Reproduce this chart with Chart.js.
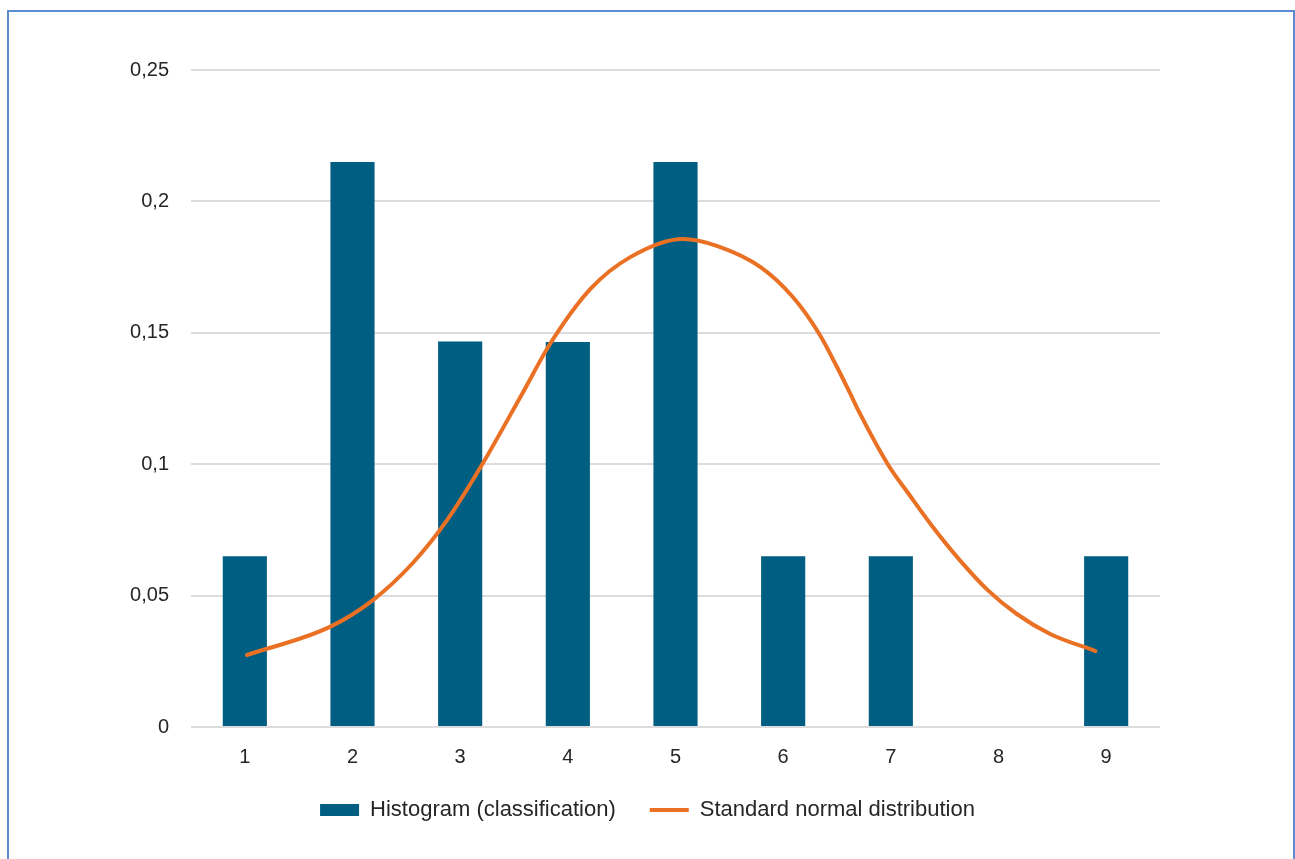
<!DOCTYPE html>
<html>
<head>
<meta charset="utf-8">
<title>Histogram vs normal distribution</title>
<script src="https://cdn.jsdelivr.net/npm/chart.js@4/dist/chart.umd.min.js"></script>
<style>
  html, body { margin: 0; padding: 0; background: #fff; }
  body { width: 1295px; height: 859px; position: relative; overflow: hidden; }
  #frame {
    position: absolute; left: 7px; top: 10px;
    width: 1284px; height: 900px;
    border: 2px solid #5b8bd0;
  }
  #wrap { position: absolute; left: 0; top: 0; width: 1295px; height: 859px; }
</style>
</head>
<body>
<div id="frame"></div>
<div id="wrap"><canvas id="chart"></canvas></div>
<script>
// histogram bins (x) and relative frequencies
const bins = [1, 2, 3, 4, 5, 6, 7, 8, 9];
const histValues = [0.065, 0.215, 0.1467, 0.1465, 0.215, 0.065, 0.065, 0, 0.065];

// normal curve
const curveX = [1.02, 1.79, 2.19, 2.56, 2.88, 3.19, 3.58, 3.84, 4.21, 4.58, 5.07, 5.39, 5.79,
  6.09, 6.33, 6.50, 6.62, 6.71, 6.97, 7.18, 7.39, 7.64, 7.90, 8.17, 8.48, 8.90];
const curveY = [0.0274, 0.0381, 0.0483, 0.0624, 0.0788, 0.0989, 0.1271, 0.1461, 0.1667, 0.1788, 0.1857, 0.1830, 0.1750,
  0.1636, 0.1499, 0.1370, 0.1271, 0.1195, 0.1001, 0.0879, 0.0761, 0.0635, 0.0521, 0.0430, 0.0354, 0.0289];

// y axis ticks
const yTickValues = [0, 0.05, 0.1, 0.15, 0.2, 0.25];
const yTickLabels = ['0', '0,05', '0,1', '0,15', '0,2', '0,25'];

const seriesNames = ['Histogram (classification)', 'Standard normal distribution'];

const barColor = '#005e82';
const lineColor = '#ea7024';
const FONT = '"Liberation Sans", Arial, Helvetica, sans-serif';

const ctx = document.getElementById('chart').getContext('2d');

new Chart(ctx, {
  type: 'bar',
  data: {
    datasets: [
      {
        type: 'bar',
        label: seriesNames[0],
        data: bins.map((b, i) => ({ x: b, y: histValues[i] })),
        backgroundColor: barColor,
        borderWidth: 0,
        barPercentage: 0.41,
        categoryPercentage: 1,
        order: 1
      },
      {
        type: 'line',
        label: seriesNames[1],
        data: curveX.map((x, i) => ({ x: x, y: curveY[i] })),
        borderColor: lineColor,
        backgroundColor: lineColor,
        borderWidth: 4,
        pointRadius: 0,
        cubicInterpolationMode: 'monotone',
        borderCapStyle: 'round',
        fill: false,
        order: 0
      }
    ]
  },
  options: {
    responsive: true,
    maintainAspectRatio: false,
    animation: false,
    layout: {
      padding: { top: 70, left: 0, right: 0, bottom: 28 }
    },
    plugins: {
      tooltip: { enabled: false },
      legend: {
        position: 'bottom',
        labels: {
          font: { family: FONT, size: 22 },
          color: '#262626',
          padding: 34,
          usePointStyle: true,
          pointStyleWidth: 39,
          boxHeight: 12,
          sort: (a, b) => a.datasetIndex - b.datasetIndex,
          generateLabels: (chart) => {
            const items = Chart.defaults.plugins.legend.labels.generateLabels(chart);
            items.forEach(it => {
              if (it.datasetIndex === 0) {
                it.pointStyle = 'rect';
                it.fillStyle = barColor;
                it.strokeStyle = barColor;
                it.lineWidth = 0;
              } else {
                it.pointStyle = 'line';
                it.strokeStyle = lineColor;
                it.lineWidth = 4;
              }
            });
            return items;
          }
        }
      }
    },
    scales: {
      x: {
        type: 'linear',
        min: 0.5,
        max: 9.5,
        offset: false,
        grid: { display: false, drawTicks: false },
        border: { display: false },
        ticks: {
          padding: 18,
          color: '#262626',
          font: { family: FONT, size: 20 },
          callback: (v) => String(v)
        },
        afterBuildTicks: (scale) => {
          scale.ticks = bins.map(v => ({ value: v }));
        },
        afterFit: (scale) => { scale.height = 38; }
      },
      y: {
        min: 0,
        max: 0.25,
        grid: { color: '#dcdcdc', lineWidth: 2, drawTicks: false },
        border: { display: false },
        ticks: {
          padding: 22,
          color: '#262626',
          font: { family: FONT, size: 20 },
          callback: (v, i) => yTickLabels[i]
        },
        afterBuildTicks: (scale) => {
          scale.ticks = yTickValues.map(v => ({ value: v }));
        },
        afterFit: (scale) => { scale.width = 191; }
      },
      yRight: {
        position: 'right',
        grid: { display: false, drawTicks: false },
        border: { display: false },
        ticks: { display: false },
        afterFit: (scale) => { scale.width = 135; }
      }
    }
  }
});
</script>
</body>
</html>
